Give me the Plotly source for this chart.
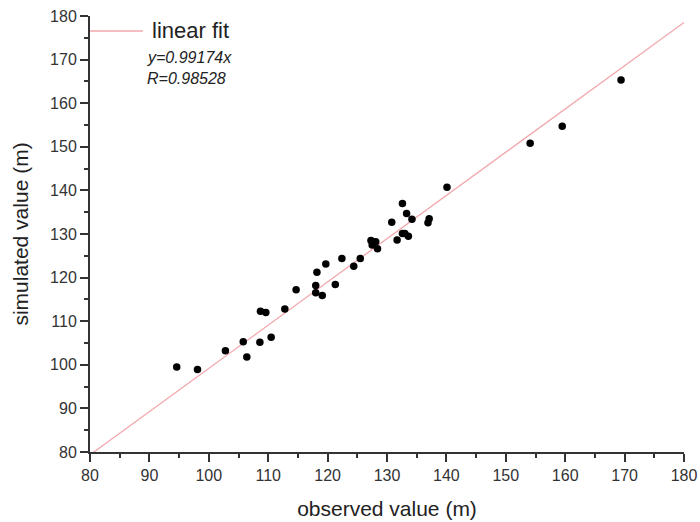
import plotly.graph_objects as go

# observed (x) and simulated (y) values
observed = [94.6, 98.1, 102.8, 105.8, 106.4, 108.6, 108.7, 109.6, 110.5,
            112.8, 114.7, 118.0, 118.2, 118.0, 119.1, 119.7, 121.3, 122.4,
            124.4, 125.5, 127.3, 128.1, 127.5, 128.4, 127.8, 130.8, 131.7,
            132.6, 133.3, 134.2, 132.6, 133.0, 133.6, 137.1, 136.9, 140.1,
            154.1, 159.5, 169.4]
simulated = [99.5, 98.9, 103.2, 105.3, 101.8, 105.2, 112.3, 112.0, 106.3,
             112.8, 117.2, 118.2, 121.2, 116.5, 115.9, 123.1, 118.4, 124.4,
             122.6, 124.4, 128.5, 128.2, 127.5, 126.6, 127.9, 132.7, 128.6,
             137.0, 134.7, 133.4, 130.1, 130.1, 129.5, 133.5, 132.6, 140.7,
             150.8, 154.7, 165.3]

slope = 0.99174
r_value = 0.98528
fit_x = [80, 180]
fit_y = [slope * v for v in fit_x]

x_ticks = list(range(80, 181, 10))
y_ticks = list(range(80, 181, 10))

FONT = "Liberation Sans, Arial, sans-serif"
AXIS_COLOR = "#333333"

fig = go.Figure()
fig.add_trace(go.Scatter(x=fit_x, y=fit_y, mode="lines",
                         line=dict(color="#f2a8ae", width=1.3),
                         name="linear fit", showlegend=False))
fig.add_trace(go.Scatter(x=observed, y=simulated, mode="markers",
                         marker=dict(color="black", size=7.5),
                         showlegend=False, cliponaxis=False))

axis_common = dict(
    showgrid=False, zeroline=False, showline=True, linecolor=AXIS_COLOR,
    linewidth=2, ticks="outside", ticklen=8, tickwidth=1.5, tickcolor=AXIS_COLOR,
    tickfont=dict(family=FONT, size=16, color="#333333"),
    minor=dict(ticks="outside", ticklen=4, tickwidth=1.5, tickcolor=AXIS_COLOR, dtick=5),
)

fig.update_xaxes(range=[80, 180], tickvals=x_ticks,
                 title=dict(text="observed value (m)", font=dict(family=FONT, size=21, color="#222222"), standoff=18),
                 **axis_common)
fig.update_yaxes(range=[80, 180], tickvals=y_ticks,
                 title=dict(text="simulated value (m)", font=dict(family=FONT, size=21, color="#222222"), standoff=16),
                 **axis_common)

# legend-like key at top-left
fig.add_shape(type="line", xref="paper", yref="paper",
              x0=0.0, x1=(143 - 90) / 594, y0=(452 - 31) / 436, y1=(452 - 31) / 436,
              line=dict(color="#f2a8ae", width=1.3))
fig.add_annotation(xref="paper", yref="paper", x=(150 - 90) / 594, y=(452 - 31) / 436,
                   xanchor="left", yanchor="middle", showarrow=False,
                   text="linear fit", font=dict(family=FONT, size=22, color="#222222"))
fig.add_annotation(xref="paper", yref="paper", x=(145 - 90) / 594, y=(452 - 57) / 436,
                   xanchor="left", yanchor="middle", showarrow=False,
                   text=f"<i>y={slope}x</i>", font=dict(family=FONT, size=16, color="#222222"))
fig.add_annotation(xref="paper", yref="paper", x=(145 - 90) / 594, y=(452 - 78) / 436,
                   xanchor="left", yanchor="middle", showarrow=False,
                   text=f"<i>R={r_value}</i>", font=dict(family=FONT, size=16, color="#222222"))

fig.update_layout(
    width=700, height=522,
    margin=dict(l=90, r=16, t=16, b=70, autoexpand=False),
    plot_bgcolor="white", paper_bgcolor="white",
    font=dict(family=FONT),
)

fig.write_html("out.html", config={"displayModeBar": False},
               post_script="document.body.style.margin='0';document.body.style.overflow='hidden';")
